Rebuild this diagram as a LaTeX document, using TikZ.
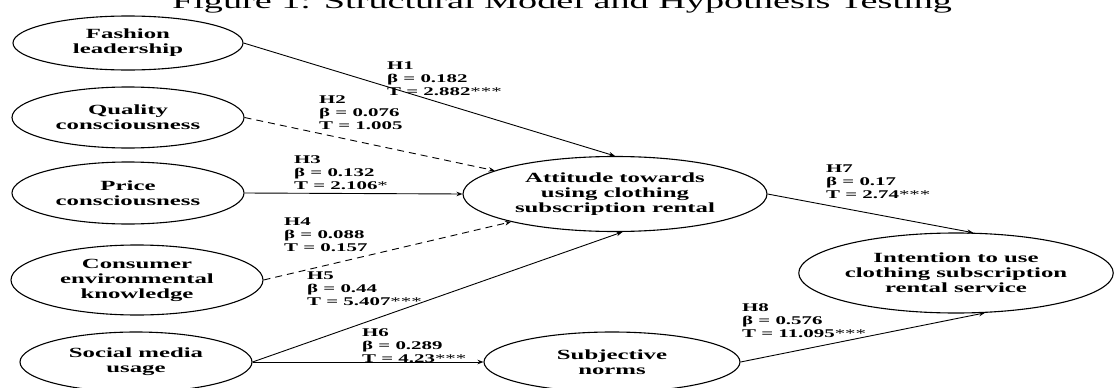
\documentclass[tikz,border=0pt]{standalone}
\usepackage{fontspec}
\setmainfont{Liberation Serif}[FakeStretch=1.77]
\usetikzlibrary{shapes.geometric,arrows.meta}
\begin{document}
\begin{tikzpicture}[x=1pt,y=-1pt,
  lv/.style={draw, ellipse, line width=1.1pt, inner sep=0pt, align=center,
    font=\fontsize{14}{15}\selectfont\bfseries},
  hl/.style={anchor=north west, align=left, inner sep=0pt,
    font=\fontsize{11.8}{13}\selectfont\bfseries},
  conn/.style={line width=0.9pt, -{Stealth[length=6pt,width=4.5pt]}},
  ns/.style={conn, dash pattern=on 7pt off 5pt}]
\useasboundingbox (0,0) rectangle (1114,388);
\clip (0,0) rectangle (1114,388);

\node[anchor=base, inner sep=0pt, font=\fontsize{21.6}{23}\selectfont] (title) at (562,9)
  {Figure 1: Structural Model and Hypothesis Testing};

\node[lv, minimum width=230pt, minimum height=54pt] (fash) at (128,43) {Fashion\\leadership};
\node[lv, minimum width=232pt, minimum height=61pt] (qual) at (128,117.5) {Quality\\consciousness};
\node[lv, minimum width=232pt, minimum height=62pt] (price) at (128,193) {Price\\consciousness};
\node[lv, minimum width=252pt, minimum height=70pt] (cek) at (137,280) {Consumer\\environmental\\knowledge};
\node[lv, minimum width=232pt, minimum height=60pt] (smu) at (136,362) {Social media\\usage};
\node[lv, minimum width=304pt, minimum height=75pt] (att) at (615,194) {Attitude towards\\using clothing\\subscription rental};
\node[lv, minimum width=314pt, minimum height=80pt] (int) at (956,273) {Intention to use\\clothing subscription\\rental service};
\node[lv, minimum width=256pt, minimum height=60pt] (sn) at (612,362) {Subjective\\norms};

\draw[conn] (fash.east) -- (att.north);
\draw[ns] (qual.east) -- (att.169);
\draw[conn] (price.east) -- (att.west);
\draw[ns] (cek.east) -- (att.195.4);
\draw[conn] (smu.east) -- (att.-79.6);
\draw[conn] (smu.east) -- (sn.west);
\draw[conn] (att.east) -- (int.67);
\draw[conn] (sn.east) -- (int.-54);

\node[hl] (l1) at (387,62) {H1\\β = 0.182\\T = 2.882\textmd{***}};
\node[hl] (l2) at (319,95) {H2\\β = 0.076\\T = 1.005};
\node[hl] (l3) at (294,155) {H3\\β = 0.132\\T = 2.106\textmd{*}};
\node[hl] (l4) at (284,218) {H4\\β = 0.088\\T = 0.157};
\node[hl] (l5) at (307,272) {H5\\β = 0.44\\T = 5.407\textmd{***}};
\node[hl] (l6) at (362,328) {H6\\β = 0.289\\T = 4.23\textmd{***}};
\node[hl] (l7) at (826,165) {H7\\β = 0.17\\T = 2.74\textmd{***}};
\node[hl] (l8) at (742,303) {H8\\β = 0.576\\T = 11.095\textmd{***}};
\end{tikzpicture}
\end{document}
